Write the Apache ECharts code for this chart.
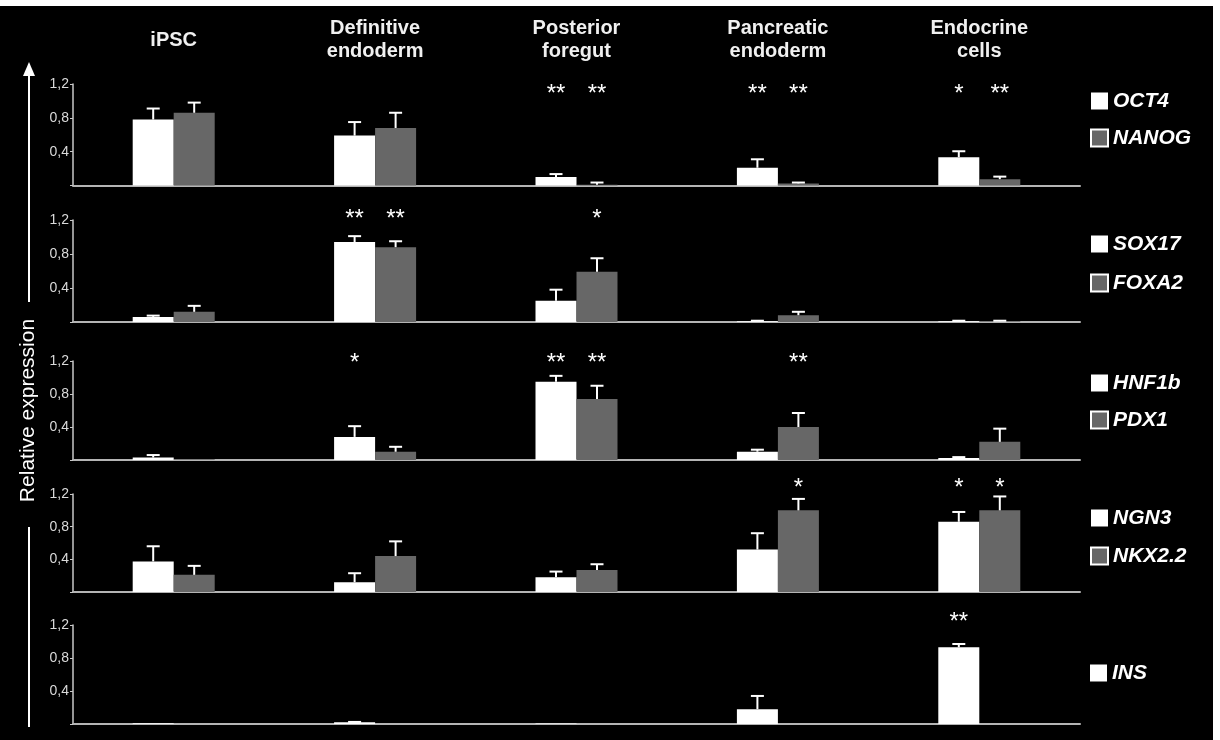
<!DOCTYPE html>
<html>
<head>
<meta charset="utf-8">
<script src="https://cdn.jsdelivr.net/npm/echarts@6/dist/echarts.min.js"></script>
<style>
  html, body { margin: 0; padding: 0; background: #ffffff; }
  #chart { width: 1220px; height: 740px; }
</style>
</head>
<body>
<div id="chart"></div>
<script>
// Differentiation stages (columns)
const stages = ['iPSC', 'Definitive\nendoderm', 'Posterior\nforegut', 'Pancreatic\nendoderm', 'Endocrine\ncells'];
const yTickValues = [0.4, 0.8, 1.2];

// Pluripotency markers
const oct4 = [0.78, 0.59, 0.10, 0.21, 0.335];
const oct4Err = [0.13, 0.16, 0.035, 0.10, 0.07];
const nanog = [0.86, 0.68, 0.01, 0.025, 0.075];
const nanogErr = [0.12, 0.18, 0.025, 0.01, 0.03];
const oct4Sig = ['', '', '**', '**', '*'];
const nanogSig = ['', '', '**', '**', '**'];

// Definitive endoderm markers
const sox17 = [0.06, 0.94, 0.25, 0.01, 0.01];
const sox17Err = [0.015, 0.07, 0.13, 0.005, 0.005];
const foxa2 = [0.12, 0.88, 0.59, 0.08, 0.01];
const foxa2Err = [0.07, 0.07, 0.16, 0.04, 0.005];
const sox17Sig = ['', '**', '', '', ''];
const foxa2Sig = ['', '**', '*', '', ''];

// Foregut / pancreatic markers
const hnf1b = [0.03, 0.28, 0.95, 0.10, 0.025];
const hnf1bErr = [0.03, 0.13, 0.07, 0.025, 0.01];
const pdx1 = [0.01, 0.10, 0.74, 0.40, 0.22];
const pdx1Err = [0, 0.06, 0.16, 0.17, 0.16];
const hnf1bSig = ['', '*', '**', '', ''];
const pdx1Sig = ['', '', '**', '**', ''];

// Endocrine progenitor markers
const ngn3 = [0.375, 0.12, 0.18, 0.52, 0.86];
const ngn3Err = [0.185, 0.11, 0.07, 0.20, 0.12];
const nkx22 = [0.21, 0.44, 0.27, 1.0, 1.0];
const nkx22Err = [0.11, 0.18, 0.07, 0.14, 0.17];
const ngn3Sig = ['', '', '', '', '*'];
const nkx22Sig = ['', '', '', '*', '*'];

// Insulin
const ins = [0.01, 0.02, 0.005, 0.18, 0.93];
const insErr = [0, 0.005, 0, 0.16, 0.04];
const insSig = ['', '', '', '', '**'];

const panelGenes = [
  [{ name: 'OCT4', v: oct4, e: oct4Err, s: oct4Sig }, { name: 'NANOG', v: nanog, e: nanogErr, s: nanogSig }],
  [{ name: 'SOX17', v: sox17, e: sox17Err, s: sox17Sig }, { name: 'FOXA2', v: foxa2, e: foxa2Err, s: foxa2Sig }],
  [{ name: 'HNF1b', v: hnf1b, e: hnf1bErr, s: hnf1bSig }, { name: 'PDX1', v: pdx1, e: pdx1Err, s: pdx1Sig }],
  [{ name: 'NGN3', v: ngn3, e: ngn3Err, s: ngn3Sig }, { name: 'NKX2.2', v: nkx22, e: nkx22Err, s: nkx22Sig }],
  [{ name: 'INS', v: ins, e: insErr, s: insSig }]
];

// Panel geometry (pixels)
const layout = [
  { top: 84,  height: 101.5, starDy: 9,  legendTop: 90.5, legendGap: 16 },
  { top: 220, height: 102,   starDy: -2, legendTop: 233.5, legendGap: 18 },
  { top: 361, height: 99,    starDy: 1,  legendTop: 372.5, legendGap: 16 },
  { top: 494, height: 98,    starDy: -7, legendTop: 507.5, legendGap: 17 },
  { top: 625, height: 99,    starDy: -4, legendTop: 662.5, legendGap: 16 }
];

const BAR_W = 41;
const CAP_W = 13;
const WHITE = '#ffffff';
const GREY = '#676767';
const FONT = '"Liberation Sans", Arial, sans-serif';

function errorRenderer(sigs, side, starDy) {
  return function (params, api) {
    const i = api.value(0);
    const v = api.value(1);
    const e = api.value(2);
    const base = api.coord([i, v]);
    const x = base[0] + side * BAR_W / 2;
    const children = [];
    if (e > 0) {
      const top = api.coord([i, v + e]);
      children.push({ type: 'line', shape: { x1: x, y1: base[1], x2: x, y2: top[1] },
        style: { stroke: WHITE, lineWidth: 2 } });
      children.push({ type: 'line', shape: { x1: x - CAP_W / 2, y1: top[1], x2: x + CAP_W / 2, y2: top[1] },
        style: { stroke: WHITE, lineWidth: 2 } });
    }
    const s = sigs[params.dataIndex];
    if (s) {
      const yTop = api.coord([i, 1.2])[1];
      children.push({ type: 'text', x: x, y: yTop + starDy + 1,
        style: { text: s, fill: WHITE, font: '24px ' + FONT, align: 'center', verticalAlign: 'middle' } });
    }
    return { type: 'group', children: children };
  };
}

const grids = [], xAxes = [], yAxes = [], series = [], legends = [];

layout.forEach(function (L, p) {
  grids.push({ left: 73, right: 140, top: L.top, height: L.height, outerBoundsMode: 'none' });
  xAxes.push({
    type: 'category', gridIndex: p, data: stages, boundaryGap: true,
    axisLine: { show: true, lineStyle: { color: '#b4b4b4', width: 2 } },
    axisTick: { show: false }, axisLabel: { show: false }, splitLine: { show: false }
  });
  yAxes.push({
    type: 'value', gridIndex: p, min: 0, max: 1.2, interval: 0.4,
    axisLine: { show: true, lineStyle: { color: '#c8c8c8', width: 1.5 } },
    axisTick: { show: true, length: 3, lineStyle: { color: '#c8c8c8' } },
    splitLine: { show: false },
    axisLabel: {
      color: '#dadada', fontSize: 14, fontFamily: FONT, margin: 4,
      formatter: function (val) {
        return yTickValues.some(function (t) { return Math.abs(t - val) < 1e-6; })
          ? val.toFixed(1).replace('.', ',') : '';
      }
    },
    name: p === 2 ? 'Relative expression' : '',
    nameLocation: 'middle', nameGap: 30, nameRotate: 90,
    nameTextStyle: { color: '#ffffff', fontSize: 21, fontFamily: FONT }
  });

  const genes = panelGenes[p];
  [0, 1].forEach(function (j) {
    const g = genes[j];
    series.push({
      type: 'bar', name: g ? g.name : '', xAxisIndex: p, yAxisIndex: p,
      barWidth: BAR_W, barGap: '0%',
      itemStyle: { color: j === 0 ? WHITE : GREY },
      data: g ? g.v : stages.map(function () { return null; }),
      silent: true
    });
  });
  genes.forEach(function (g, j) {
    series.push({
      type: 'custom', xAxisIndex: p, yAxisIndex: p, silent: true, clip: false, z: 5,
      renderItem: errorRenderer(g.s, j === 0 ? -1 : 1, L.starDy),
      encode: { x: 0, y: 1 },
      data: g.v.map(function (v, i) { return [i, v, g.e[i]]; })
    });
  });

  legends.push({
    orient: 'vertical', left: 1090, top: L.legendTop, itemGap: L.legendGap, padding: 0,
    itemWidth: 17, itemHeight: 17, icon: 'rect', selectedMode: false,
    textStyle: { color: '#ffffff', fontSize: 21, fontWeight: 'bold', fontStyle: 'italic',
      fontFamily: FONT, lineHeight: 21 },
    data: genes.map(function (g, j) {
      return { name: g.name,
        itemStyle: j === 0 ? { color: WHITE, borderWidth: 0 } : { color: GREY, borderColor: WHITE, borderWidth: 2 } };
    })
  });
});

// Stage headers along the top panel
xAxes.push({
  type: 'category', gridIndex: 0, position: 'top', data: stages,
  axisLine: { show: false }, axisTick: { show: false },
  axisLabel: { show: true, interval: 0, margin: 44, verticalAlign: 'middle', color: '#f0f0f0',
    fontSize: 20, fontWeight: 'bold', fontFamily: FONT, lineHeight: 23 }
});

const chart = echarts.init(document.getElementById('chart'), null, { renderer: 'canvas' });
chart.setOption({
  backgroundColor: '#ffffff',
  animation: false,
  graphic: [
    { type: 'rect', z: -10, shape: { x: 0, y: 6, width: 1213, height: 734 }, style: { fill: '#000000' } },
    { type: 'line', shape: { x1: 29, y1: 74, x2: 29, y2: 302 }, style: { stroke: '#ffffff', lineWidth: 2 } },
    { type: 'polygon', shape: { points: [[23, 76], [35, 76], [29, 62]] }, style: { fill: '#ffffff' } },
    { type: 'line', shape: { x1: 29, y1: 527, x2: 29, y2: 727 }, style: { stroke: '#ffffff', lineWidth: 2 } }
  ],
  grid: grids,
  xAxis: xAxes,
  yAxis: yAxes,
  legend: legends,
  series: series
});
</script>
</body>
</html>
